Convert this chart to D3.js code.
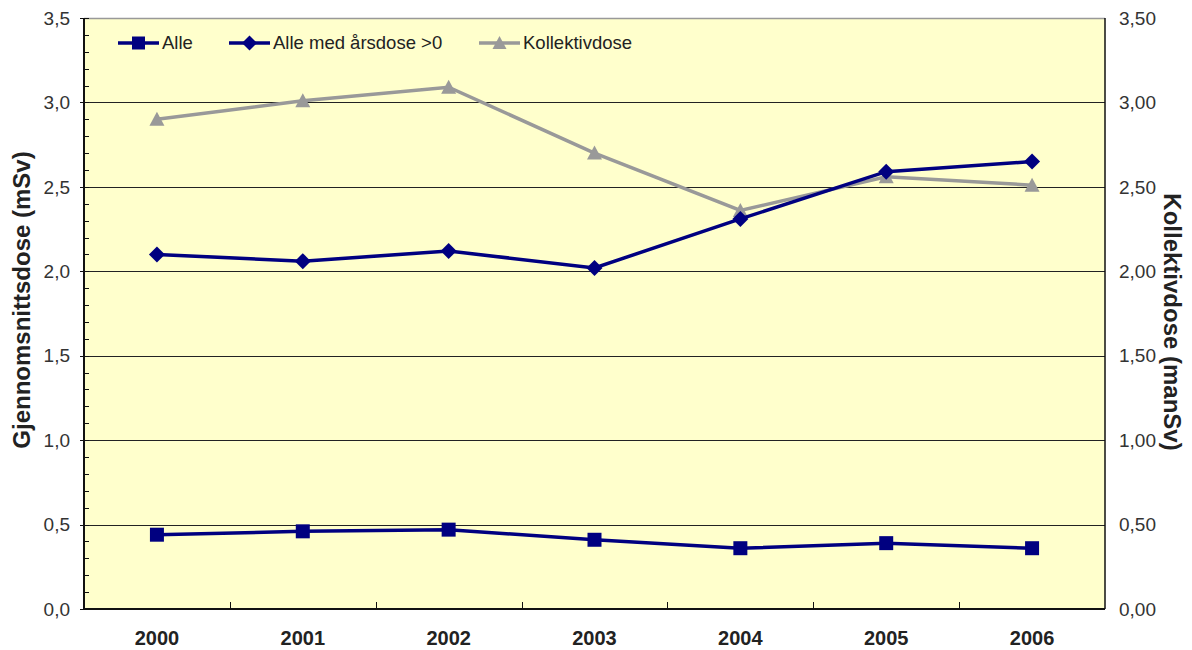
<!DOCTYPE html>
<html>
<head>
<meta charset="utf-8">
<script src="https://cdn.jsdelivr.net/npm/d3@7"></script>
<style>
    body { margin: 0; background: #fff; }
    text { font-family: "Liberation Sans", Arial, sans-serif; fill: #222; }
</style>
</head>
<body>
<script>
var years = ["2000", "2001", "2002", "2003", "2004", "2005", "2006"];
var alle = [0.44, 0.46, 0.47, 0.41, 0.36, 0.39, 0.36];
var alleMedDose = [2.10, 2.06, 2.12, 2.02, 2.31, 2.59, 2.65];
var kollektivdose = [2.90, 3.01, 3.09, 2.70, 2.36, 2.56, 2.51];
var leftTicks = [0, 0.5, 1, 1.5, 2, 2.5, 3, 3.5];
var rightTicks = [0, 0.5, 1, 1.5, 2, 2.5, 3, 3.5];

var width = 1192,
    height = 650,
    margin = {top: 18, right: 87, bottom: 41, left: 84},
    plotW = width - margin.left - margin.right,
    plotH = height - margin.top - margin.bottom,
    navy = "#000080",
    grey = "#999999";

// marker shapes drawn to the proportions of the original
var squareMark = {draw: function(ctx, size) {
    var h = size / 2;
    ctx.rect(-h, -h, size, size);
}};
var diamondMark = {draw: function(ctx, size) {
    var h = size / 2;
    ctx.moveTo(0, -h); ctx.lineTo(h, 0); ctx.lineTo(0, h); ctx.lineTo(-h, 0); ctx.closePath();
}};
var triangleMark = {draw: function(ctx, size) {
    var h = size / 2;
    ctx.moveTo(0, -h); ctx.lineTo(h, h - 1); ctx.lineTo(-h, h - 1); ctx.closePath();
}};

var svg = d3.select("body").append("svg")
    .attr("width", width)
    .attr("height", height);

var x = d3.scaleBand().domain(years).range([0, plotW]);
var y = d3.scaleLinear().domain([0, 3.5]).range([plotH, 0]);
var y2 = d3.scaleLinear().domain([0, 3.5]).range([plotH, 0]);

var g = svg.append("g").attr("transform", "translate(" + margin.left + "," + margin.top + ")");

g.append("rect")
    .attr("width", plotW)
    .attr("height", plotH)
    .style("fill", "#FFFFCC");

// gridlines
g.selectAll(".grid").data(leftTicks.filter(function(d) { return d > 0 && d < 3.5; }))
    .enter().append("line")
    .attr("x1", 0).attr("x2", plotW)
    .attr("y1", function(d) { return Math.round(y(d)) + 0.5; })
    .attr("y2", function(d) { return Math.round(y(d)) + 0.5; })
    .style("stroke", "#222").style("stroke-width", 1);

// borders
g.append("line").attr("x1", 0).attr("x2", plotW).attr("y1", 0.5).attr("y2", 0.5)
    .style("stroke", "#999").style("stroke-width", 1.5);
g.append("line").attr("x1", plotW).attr("x2", plotW).attr("y1", 0).attr("y2", plotH)
    .style("stroke", "#111").style("stroke-width", 1.5);

// left axis
var minor = d3.range(0, 3.51, 0.1);
g.selectAll(".minor").data(minor).enter().append("line")
    .attr("x1", 0).attr("x2", 5)
    .attr("y1", function(d) { return Math.round(y(d)) + 0.5; })
    .attr("y2", function(d) { return Math.round(y(d)) + 0.5; })
    .style("stroke", "#111");
g.selectAll(".major").data(leftTicks).enter().append("line")
    .attr("x1", -4).attr("x2", 0)
    .attr("y1", function(d) { return Math.round(y(d)) + 0.5; })
    .attr("y2", function(d) { return Math.round(y(d)) + 0.5; })
    .style("stroke", "#111");
g.append("line").attr("x1", 0).attr("x2", 0).attr("y1", 0).attr("y2", plotH)
    .style("stroke", "#111").style("stroke-width", 2);

g.selectAll(".ltick").data(leftTicks).enter().append("text")
    .attr("x", -14)
    .attr("y", function(d) { return y(d); })
    .attr("dy", "0.35em")
    .attr("text-anchor", "end")
    .style("font-size", "19px")
    .style("fill", "#333")
    .text(function(d) { return d.toFixed(1).replace(".", ","); });

// right axis labels
g.selectAll(".rtick").data(rightTicks).enter().append("text")
    .attr("x", plotW + 14)
    .attr("y", function(d) { return y2(d); })
    .attr("dy", "0.35em")
    .attr("text-anchor", "start")
    .style("font-size", "19px")
    .style("fill", "#333")
    .text(function(d) { return d.toFixed(2).replace(".", ","); });

// bottom axis
g.append("line").attr("x1", 0).attr("x2", plotW).attr("y1", plotH).attr("y2", plotH)
    .style("stroke", "#111").style("stroke-width", 2);
g.selectAll(".xtick").data(years.slice(1)).enter().append("line")
    .attr("x1", function(d) { return Math.round(x(d)) + 0.5; })
    .attr("x2", function(d) { return Math.round(x(d)) + 0.5; })
    .attr("y1", plotH).attr("y2", plotH - 7)
    .style("stroke", "#111");
g.selectAll(".xlab").data(years).enter().append("text")
    .attr("x", function(d) { return x(d) + x.bandwidth() / 2; })
    .attr("y", plotH + 36)
    .attr("text-anchor", "middle")
    .style("font-size", "20px")
    .style("font-weight", "bold")
    .text(function(d) { return d; });

// axis titles
svg.append("text")
    .attr("transform", "translate(30,300) rotate(-90)")
    .attr("text-anchor", "middle")
    .style("font-size", "24px")
    .style("font-weight", "bold")
    .text("Gjennomsnittsdose (mSv)");
svg.append("text")
    .attr("transform", "translate(1164,322) rotate(90)")
    .attr("text-anchor", "middle")
    .style("font-size", "24px")
    .style("font-weight", "bold")
    .text("Kollektivdose (manSv)");

// series
var cx = function(i) { return x(years[i]) + x.bandwidth() / 2; };
var series = [
    {name: "Alle", values: alle, scale: y, color: navy, symbol: squareMark, size: 14},
    {name: "Alle med årsdose >0", values: alleMedDose, scale: y, color: navy, symbol: diamondMark, size: 16},
    {name: "Kollektivdose", values: kollektivdose, scale: y2, color: grey, symbol: triangleMark, size: 15}
];

series.slice().reverse().forEach(function(s) {
    var line = d3.line()
        .x(function(d, i) { return cx(i); })
        .y(function(d) { return s.scale(d); });
    g.append("path")
        .datum(s.values)
        .attr("d", line)
        .style("fill", "none")
        .style("stroke", s.color)
        .style("stroke-width", 3.5);
    g.selectAll(null).data(s.values).enter().append("path")
        .attr("transform", function(d, i) { return "translate(" + cx(i) + "," + s.scale(d) + ")"; })
        .attr("d", d3.symbol().type(s.symbol).size(s.size))
        .style("fill", s.color);
});

// legend
var legendX = [34, 145, 395];
var legend = g.selectAll(".legendItem").data(series).enter().append("g")
    .attr("transform", function(d, i) { return "translate(" + legendX[i] + ",25)"; });
legend.append("line")
    .attr("x1", 0).attr("x2", 41).attr("y1", 0).attr("y2", 0)
    .style("stroke", function(d) { return d.color; })
    .style("stroke-width", 3.5);
legend.append("path")
    .attr("transform", "translate(20.5,0)")
    .attr("d", function(d) { return d3.symbol().type(d.symbol).size(d.size - 1)(); })
    .style("fill", function(d) { return d.color; });
legend.append("text")
    .attr("x", 44)
    .attr("dy", "0.35em")
    .style("font-size", "18.5px")
    .text(function(d) { return d.name; });
</script>
</body>
</html>
